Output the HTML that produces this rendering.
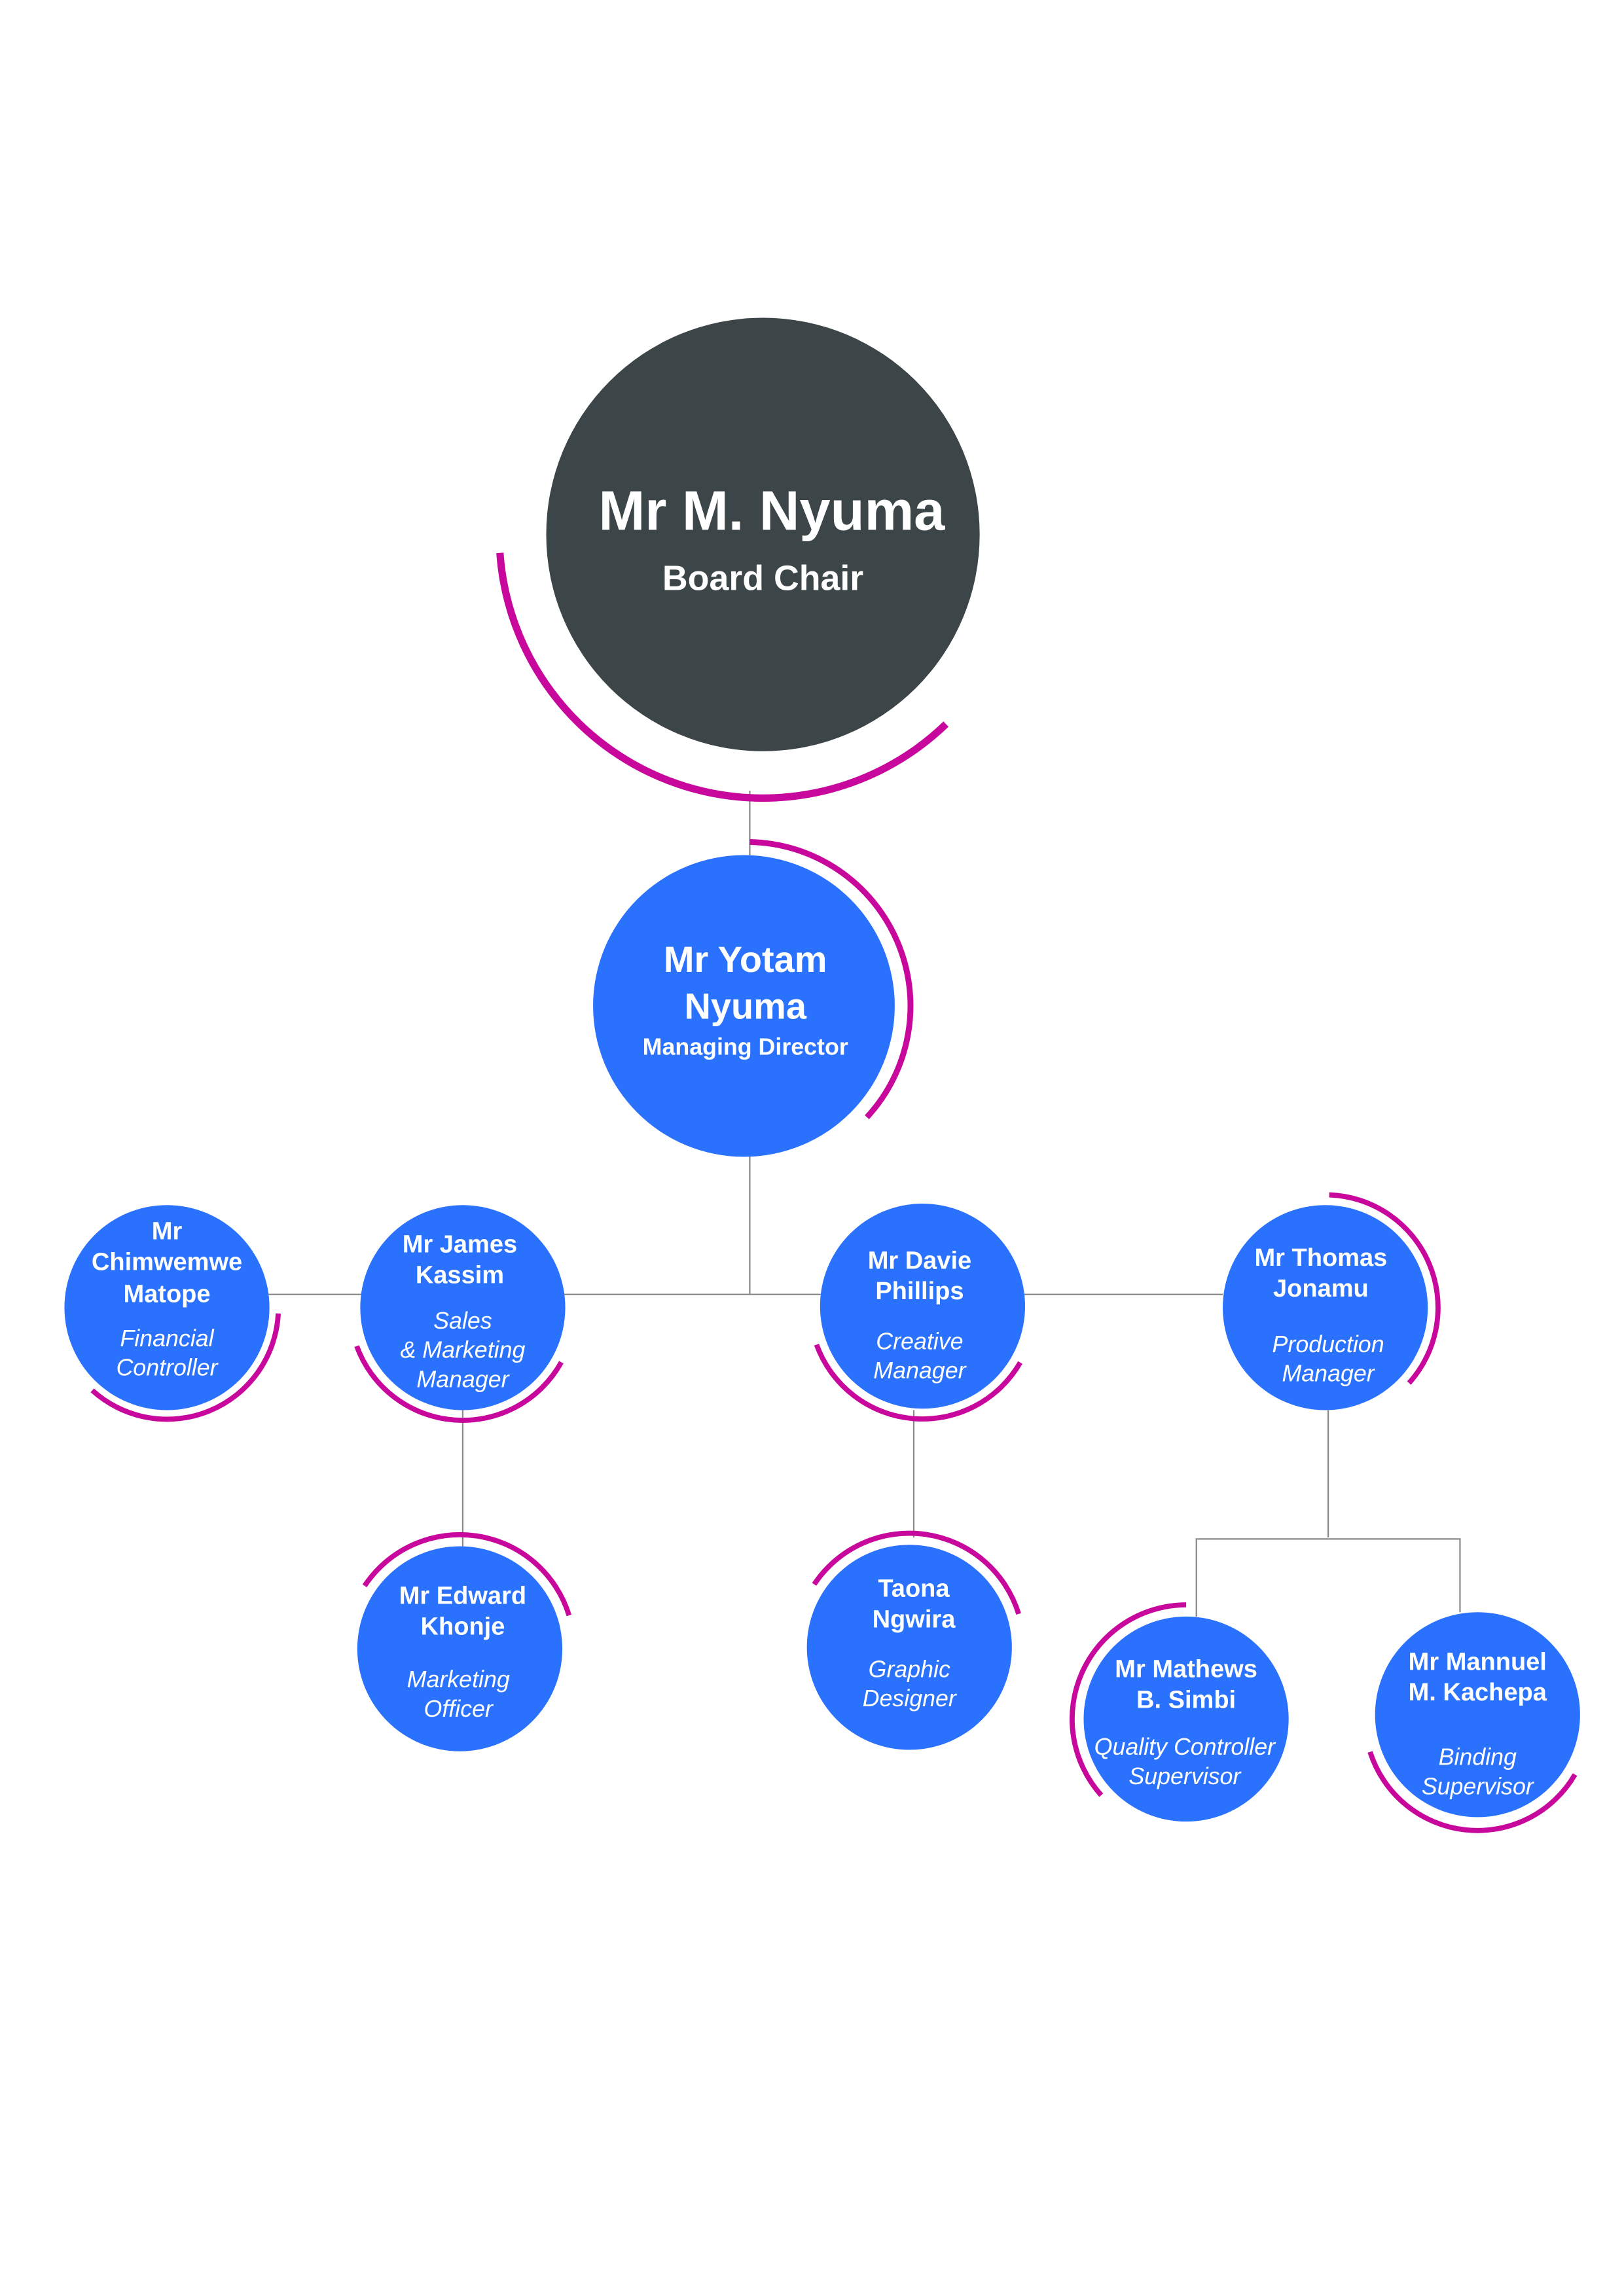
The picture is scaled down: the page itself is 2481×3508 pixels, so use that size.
<!DOCTYPE html>
<html><head><meta charset="utf-8"><style>
html,body{margin:0;padding:0;background:#fff;}
svg{display:block;}
text{font-family:"Liberation Sans",Arial,sans-serif;fill:#fff;text-anchor:middle;dominant-baseline:central;}
.n{font-weight:bold;font-size:17px;}
.r{font-style:italic;font-size:16px;}
.arc{fill:none;stroke:#c8089c;stroke-width:3.5;}
.ln{stroke:#8a8a8a;stroke-width:1;fill:none;}
</style></head><body>
<svg width="2481" height="3508" viewBox="0 0 1109 1568" preserveAspectRatio="none" xmlns="http://www.w3.org/2000/svg">
<rect width="1109" height="1568" fill="#fff"/>
<!-- connectors -->
<path class="ln" d="M512 540 V584"/>
<path class="ln" d="M512 789 V884"/>
<path class="ln" d="M183 884 H835"/>
<path class="ln" d="M316 963 V1056"/>
<path class="ln" d="M624 963 V1050"/>
<path class="ln" d="M907 963 V1050 M817 1104 V1051 H997 V1101"/>
<!-- board chair -->
<circle cx="521" cy="365" r="148" fill="#3c4547"/>
<path class="arc" style="stroke-width:5" d="M341.4 377.6 A180 180 0 0 0 646 494.5"/>
<text x="527" y="349" style="font-weight:bold;font-size:38px">Mr M. Nyuma</text>
<text x="521" y="395" style="font-weight:bold;font-size:24px">Board Chair</text>
<!-- MD -->
<circle cx="508" cy="687" r="103" fill="#2a72fe"/>
<path class="arc" style="stroke-width:4" d="M512 575 A112 112 0 0 1 592 763"/>
<text x="509" y="655" style="font-weight:bold;font-size:25px">Mr Yotam</text>
<text x="509" y="687" style="font-weight:bold;font-size:25px">Nyuma</text>
<text x="509" y="715" style="font-weight:bold;font-size:16px">Managing Director</text>
<!-- level 2 -->
<circle cx="114" cy="893" r="70" fill="#2a72fe"/>
<path class="arc" d="M190 897 A76 76 0 0 1 63 949.5"/>
<text class="n" x="114" y="841">Mr</text>
<text class="n" x="114" y="862">Chimwemwe</text>
<text class="n" x="114" y="884">Matope</text>
<text class="r" x="114" y="914">Financial</text>
<text class="r" x="114" y="934">Controller</text>

<circle cx="316" cy="893" r="70" fill="#2a72fe"/>
<path class="arc" d="M243.6 919.3 A77 77 0 0 0 383.3 930.3"/>
<text class="n" x="314" y="850">Mr James</text>
<text class="n" x="314" y="871">Kassim</text>
<text class="r" x="316" y="902">Sales</text>
<text class="r" x="316" y="922">&amp; Marketing</text>
<text class="r" x="316" y="942">Manager</text>

<circle cx="630" cy="892" r="70" fill="#2a72fe"/>
<path class="arc" d="M557.6 918.3 A77 77 0 0 0 696.7 930.5"/>
<text class="n" x="628" y="861">Mr Davie</text>
<text class="n" x="628" y="882">Phillips</text>
<text class="r" x="628" y="916">Creative</text>
<text class="r" x="628" y="936">Manager</text>

<circle cx="905" cy="893" r="70" fill="#2a72fe"/>
<path class="arc" d="M907.7 816 A77 77 0 0 1 962.2 944.5"/>
<text class="n" x="902" y="859">Mr Thomas</text>
<text class="n" x="902" y="880">Jonamu</text>
<text class="r" x="907" y="918">Production</text>
<text class="r" x="907" y="938">Manager</text>
<!-- level 3 -->
<circle cx="314" cy="1126" r="70" fill="#2a72fe"/>
<path class="arc" d="M249 1083 A78 78 0 0 1 388.6 1103.2"/>
<text class="n" x="316" y="1090">Mr Edward</text>
<text class="n" x="316" y="1111">Khonje</text>
<text class="r" x="313" y="1147">Marketing</text>
<text class="r" x="313" y="1167">Officer</text>

<circle cx="621" cy="1125" r="70" fill="#2a72fe"/>
<path class="arc" d="M556 1082 A78 78 0 0 1 695.6 1102.2"/>
<text class="n" x="624" y="1085">Taona</text>
<text class="n" x="624" y="1106">Ngwira</text>
<text class="r" x="621" y="1140">Graphic</text>
<text class="r" x="621" y="1160">Designer</text>

<circle cx="810" cy="1174" r="70" fill="#2a72fe"/>
<path class="arc" d="M810 1096 A78 78 0 0 0 752 1226"/>
<text class="n" x="810" y="1140">Mr Mathews</text>
<text class="n" x="810" y="1161">B. Simbi</text>
<text class="r" x="809" y="1193">Quality Controller</text>
<text class="r" x="809" y="1213">Supervisor</text>

<circle cx="1009" cy="1171" r="70" fill="#2a72fe"/>
<path class="arc" d="M935.6 1196.4 A77 77 0 0 0 1075.5 1211.9"/>
<text class="n" x="1009" y="1135">Mr Mannuel</text>
<text class="n" x="1009" y="1156">M. Kachepa</text>
<text class="r" x="1009" y="1200">Binding</text>
<text class="r" x="1009" y="1220">Supervisor</text>
</svg>
</body></html>
